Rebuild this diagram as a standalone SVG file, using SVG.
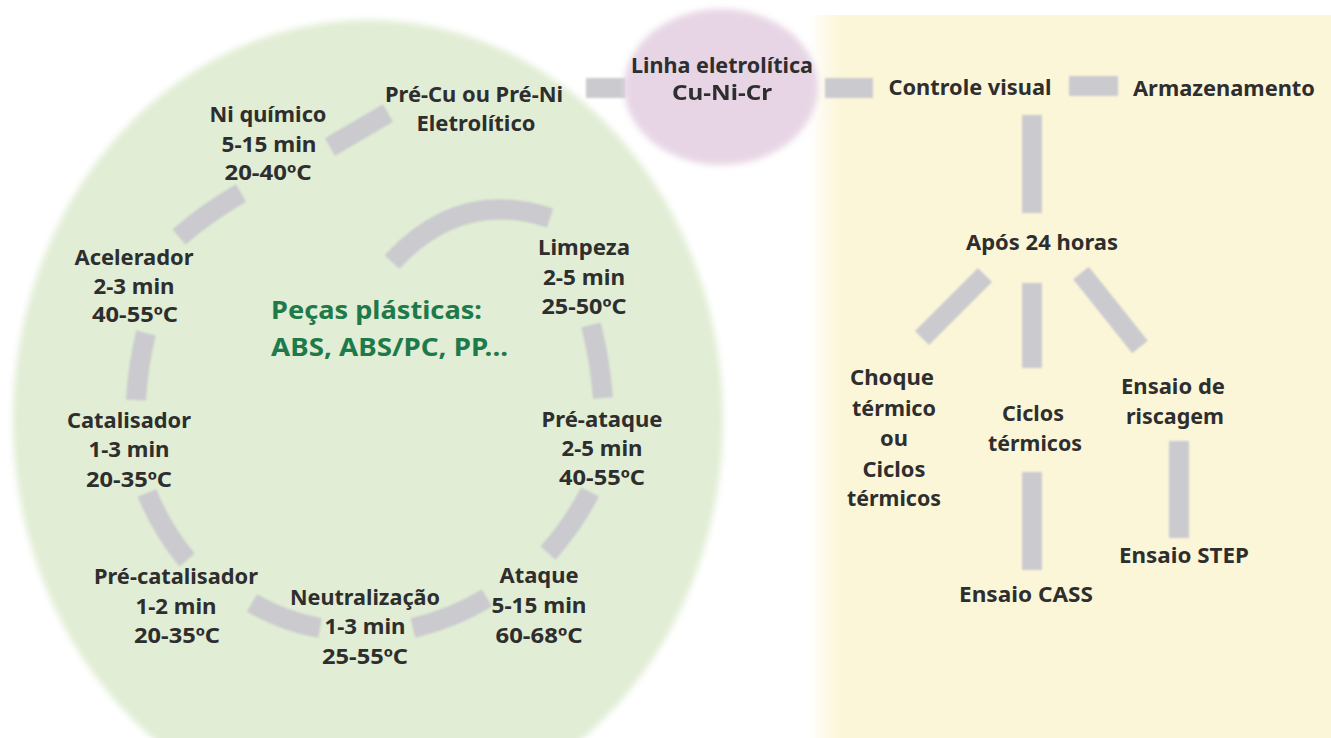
<svg xmlns="http://www.w3.org/2000/svg" width="1331" height="738" viewBox="0 0 1331 738">
<style>
.t{font-family:"Noto Sans","Liberation Sans",sans-serif;font-weight:bold;font-size:21px;fill:#2e2e2e;text-anchor:middle}
.g{font-family:"Noto Sans","Liberation Sans",sans-serif;font-weight:bold;font-size:25px;fill:#1f7a4b}
.bar{fill:none;stroke:#cacacf;stroke-width:20;stroke-linecap:butt}
</style>
<defs>
<filter id="soft" x="-10%" y="-10%" width="120%" height="120%"><feGaussianBlur stdDeviation="3"/></filter>
<filter id="sb" x="-20%" y="-20%" width="140%" height="140%"><feGaussianBlur stdDeviation="0.8"/></filter>
<filter id="tb" x="-10%" y="-30%" width="120%" height="160%"><feGaussianBlur stdDeviation="0.5"/></filter>
<linearGradient id="yl" x1="0" y1="0" x2="1" y2="0">
<stop offset="0" stop-color="#fcf6d9" stop-opacity="0"/>
<stop offset="0.06" stop-color="#fcf6d9" stop-opacity="1"/>
</linearGradient>
</defs>
<rect width="1331" height="738" fill="#ffffff"/>
<g id="background">
<rect x="808" y="15" width="523" height="723" fill="url(#yl)"/>
<ellipse cx="368" cy="420" rx="355" ry="400" fill="#e1edd4" filter="url(#soft)"/>
</g>
<g id="connectors" filter="url(#sb)">
<line class="bar" x1="586" y1="88" x2="626" y2="88"/>
<line class="bar" x1="825" y1="88" x2="873" y2="88"/>
<line class="bar" x1="1069" y1="86" x2="1118" y2="86"/>
<line class="bar" x1="330" y1="147" x2="388" y2="113"/>
<path class="bar" d="M179 237 Q208 212 241 193"/>
<path class="bar" d="M146 333 Q138 365 136 400"/>
<path class="bar" d="M147 493 Q162 530 187 560"/>
<path class="bar" d="M252 603 Q285 622 320 628"/>
<path class="bar" d="M413 628 Q452 619 487 598"/>
<path class="bar" d="M548 553 Q573 525 590 492"/>
<path class="bar" d="M591 325 Q600 360 603 398"/>
<path class="bar" stroke-width="22" stroke-linecap="round" d="M392 262 Q460 188 550 218"/>
<line class="bar" x1="1032" y1="115" x2="1032" y2="213"/>
<line class="bar" x1="922" y1="338" x2="985" y2="275"/>
<line class="bar" x1="1032" y1="283" x2="1032" y2="368"/>
<line class="bar" x1="1081" y1="273" x2="1140" y2="347"/>
<line class="bar" x1="1032" y1="472" x2="1032" y2="570"/>
<line class="bar" x1="1179" y1="441" x2="1179" y2="538"/>
</g>
<g id="cuNiCr">
<ellipse cx="721" cy="87" rx="97" ry="78" fill="#e7d5e5" filter="url(#soft)"/>
<text class="t" x="722" y="73" textLength="182" lengthAdjust="spacingAndGlyphs">Linha eletrolítica</text>
<text class="t" x="722" y="100" textLength="100" lengthAdjust="spacingAndGlyphs" fill="#3a3440" filter="url(#tb)">Cu-Ni-Cr</text>
</g>
<g id="preCu">
<text class="t" x="474" y="102" textLength="178" lengthAdjust="spacingAndGlyphs">Pré-Cu ou Pré-Ni</text>
<text class="t" x="476" y="131" textLength="119" lengthAdjust="spacingAndGlyphs">Eletrolítico</text>
</g>
<g id="niQuimico">
<text class="t" x="268" y="122" textLength="117" lengthAdjust="spacingAndGlyphs">Ni químico</text>
<text class="t" x="269" y="152" textLength="95" lengthAdjust="spacingAndGlyphs">5-15 min</text>
<text class="t" x="268" y="180" textLength="87" lengthAdjust="spacingAndGlyphs">20-40ºC</text>
</g>
<g id="acelerador">
<text class="t" x="134" y="265" textLength="119" lengthAdjust="spacingAndGlyphs">Acelerador</text>
<text class="t" x="134" y="294" textLength="81" lengthAdjust="spacingAndGlyphs">2-3 min</text>
<text class="t" x="135" y="322" textLength="86" lengthAdjust="spacingAndGlyphs">40-55ºC</text>
</g>
<g id="catalisador">
<text class="t" x="129" y="428" textLength="124" lengthAdjust="spacingAndGlyphs">Catalisador</text>
<text class="t" x="129" y="457" textLength="81" lengthAdjust="spacingAndGlyphs">1-3 min</text>
<text class="t" x="129" y="487" textLength="86" lengthAdjust="spacingAndGlyphs">20-35ºC</text>
</g>
<g id="preCatalisador">
<text class="t" x="176" y="584" textLength="164" lengthAdjust="spacingAndGlyphs">Pré-catalisador</text>
<text class="t" x="176" y="614" textLength="81" lengthAdjust="spacingAndGlyphs">1-2 min</text>
<text class="t" x="177" y="643" textLength="86" lengthAdjust="spacingAndGlyphs">20-35ºC</text>
</g>
<g id="neutralizacao">
<text class="t" x="365" y="605" textLength="150" lengthAdjust="spacingAndGlyphs">Neutralização</text>
<text class="t" x="365" y="634" textLength="81" lengthAdjust="spacingAndGlyphs">1-3 min</text>
<text class="t" x="365" y="664" textLength="86" lengthAdjust="spacingAndGlyphs">25-55ºC</text>
</g>
<g id="ataque">
<text class="t" x="539" y="583" textLength="79" lengthAdjust="spacingAndGlyphs">Ataque</text>
<text class="t" x="539" y="613" textLength="95" lengthAdjust="spacingAndGlyphs">5-15 min</text>
<text class="t" x="539" y="643" textLength="87" lengthAdjust="spacingAndGlyphs">60-68ºC</text>
</g>
<g id="preAtaque">
<text class="t" x="602" y="427" textLength="121" lengthAdjust="spacingAndGlyphs">Pré-ataque</text>
<text class="t" x="602" y="456" textLength="81" lengthAdjust="spacingAndGlyphs">2-5 min</text>
<text class="t" x="602" y="485" textLength="86" lengthAdjust="spacingAndGlyphs">40-55ºC</text>
</g>
<g id="limpeza">
<text class="t" x="584" y="255" textLength="92" lengthAdjust="spacingAndGlyphs">Limpeza</text>
<text class="t" x="584" y="285" textLength="82" lengthAdjust="spacingAndGlyphs">2-5 min</text>
<text class="t" x="584" y="314" textLength="85" lengthAdjust="spacingAndGlyphs">25-50ºC</text>
</g>
<g id="pecas">
<text class="g" x="271" y="319" textLength="211" lengthAdjust="spacingAndGlyphs">Peças plásticas:</text>
<text class="g" x="271" y="356" textLength="237" lengthAdjust="spacingAndGlyphs">ABS, ABS/PC, PP...</text>
</g>
<g id="controleVisual">
<text class="t" x="970" y="95" textLength="163" lengthAdjust="spacingAndGlyphs">Controle visual</text>
</g>
<g id="armazenamento">
<text class="t" x="1224" y="96" textLength="182" lengthAdjust="spacingAndGlyphs">Armazenamento</text>
</g>
<g id="apos24">
<text class="t" x="1042" y="250" textLength="152" lengthAdjust="spacingAndGlyphs">Após 24 horas</text>
</g>
<g id="choque">
<text class="t" x="892" y="385" textLength="84" lengthAdjust="spacingAndGlyphs">Choque</text>
<text class="t" x="894" y="416" textLength="84" lengthAdjust="spacingAndGlyphs">térmico</text>
<text class="t" x="894" y="446" textLength="28" lengthAdjust="spacingAndGlyphs">ou</text>
<text class="t" x="894" y="477" textLength="63" lengthAdjust="spacingAndGlyphs">Ciclos</text>
<text class="t" x="894" y="506" textLength="94" lengthAdjust="spacingAndGlyphs">térmicos</text>
</g>
<g id="ciclos">
<text class="t" x="1033" y="421" textLength="62" lengthAdjust="spacingAndGlyphs">Ciclos</text>
<text class="t" x="1035" y="451" textLength="94" lengthAdjust="spacingAndGlyphs">térmicos</text>
</g>
<g id="riscagem">
<text class="t" x="1173" y="394" textLength="104" lengthAdjust="spacingAndGlyphs">Ensaio de</text>
<text class="t" x="1175" y="424" textLength="98" lengthAdjust="spacingAndGlyphs">riscagem</text>
</g>
<g id="cass">
<text class="t" x="1026" y="602" textLength="134" lengthAdjust="spacingAndGlyphs">Ensaio CASS</text>
</g>
<g id="step">
<text class="t" x="1184" y="563" textLength="130" lengthAdjust="spacingAndGlyphs">Ensaio STEP</text>
</g>
</svg>
